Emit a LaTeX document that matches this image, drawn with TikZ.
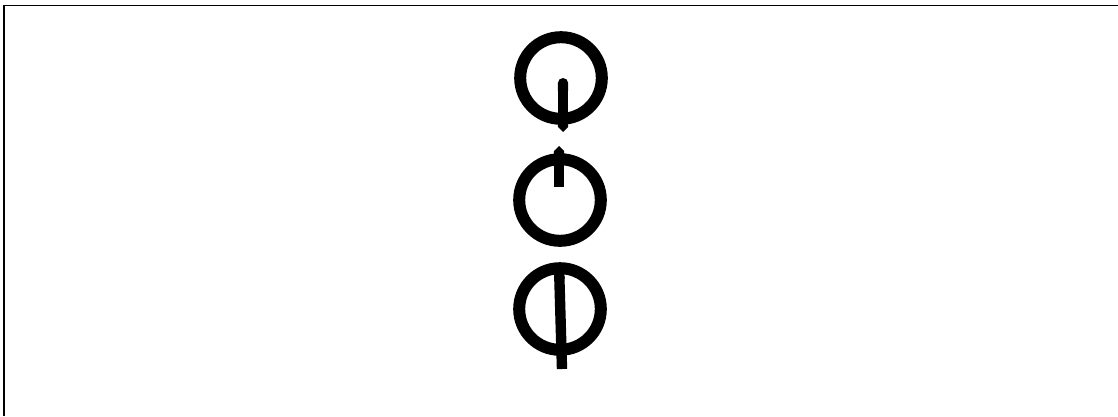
\documentclass[tikz,border=0pt]{standalone}
\usepackage{tikz}
\usetikzlibrary{arrows.meta}

\begin{document}
\begin{tikzpicture}[
    x=0.025cm, y=-0.025cm,
    ring/.style={draw, circle, line width=0.3cm, minimum size=2.04cm, inner sep=0pt},
    stem/.style={line width=0.26cm},
    frameline/.style={line width=1.4pt},
]
\useasboundingbox (0,0) rectangle (1118,416);

% --- frame (top and left edges only) ---
\coordinate (tl) at (4,5.5);
\coordinate (tr) at (1118,5.5);
\coordinate (bl) at (4,416);
\draw[frameline] (tr) -- (tl) -- (bl);

% --- top: stem from centre down through the ring ---
\node[ring] (q1) at (561,78) {};
\coordinate (q1end) at (563,132);
\draw[stem, {Round Cap}-{Triangle Cap[]}] ([shift={(2,0)}]q1.center) -- (q1end);

% --- middle: stem from above down to the centre ---
\node[ring] (q2) at (560,200) {};
\coordinate (q2top) at (559,146);
\draw[stem, {Triangle Cap[]}-] (q2top) -- ([shift={(-1,-13)}]q2.center);

% --- bottom: stem through the whole ring ---
\node[ring] (q3) at (560,309) {};
\coordinate (q3top) at (559,266);
\coordinate (q3end) at (562,369);
\draw[stem, {Triangle Cap[]}-] (q3top) -- (q3end);
\end{tikzpicture}
\end{document}
